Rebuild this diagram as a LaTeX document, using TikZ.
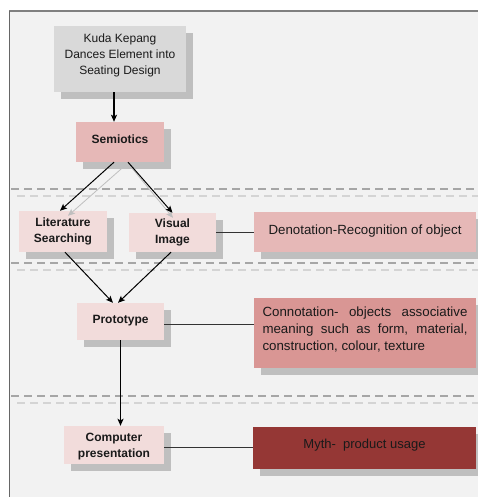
\documentclass[tikz,border=0pt]{standalone}
\usepackage{fontspec}
\setmainfont{Liberation Sans}
\usetikzlibrary{shadows,arrows.meta}
\definecolor{panel}{HTML}{F2F2F2}
\definecolor{shadowc}{HTML}{BFBFBF}
\definecolor{kudac}{HTML}{D9D9D9}
\definecolor{semc}{HTML}{E6B8B7}
\definecolor{lightc}{HTML}{F2DCDB}
\definecolor{conc}{HTML}{D99694}
\definecolor{mythc}{HTML}{953735}
\definecolor{textc}{HTML}{1A1A1A}
\definecolor{dashdark}{HTML}{A6A6A6}
\definecolor{dashlight}{HTML}{D4D4D4}
\begin{document}
\begin{tikzpicture}[x=1pt,y=-1pt,
  box/.style={rectangle, inner sep=2pt, align=center, text=textc,
    drop shadow={shadow xshift=7pt, shadow yshift=-7pt, fill=shadowc, opacity=1}},
  regtxt/.style={font=\fontsize{12}{16}\selectfont},
  bigtxt/.style={font=\fontsize{13.3}{17}\selectfont},
  boldtxt/.style={font=\fontsize{12}{16.5}\selectfont\bfseries},
  arr/.style={-{Stealth[length=7pt,width=6pt,inset=1.5pt]}, line width=1pt, black},
  garr/.style={-{Stealth[length=7pt,width=6pt,inset=1.5pt]}, line width=0.8pt, shadowc},
  conn/.style={line width=0.8pt, black!80},
  dsep/.style={dashdark, line width=1.2pt, dash pattern=on 8pt off 5pt},
  lsep/.style={dashlight, line width=1.2pt, dash pattern=on 8pt off 5pt}]
\useasboundingbox (0,0) rectangle (478,497);
\clip (0,0) rectangle (478,497);
\fill[white] (0,0) rectangle (478,497);
\fill[panel] (9,11) rectangle (478,497);
\draw[gray, line width=1.5pt] (9,11) -- (478,11);
\draw[black!60, line width=1pt] (9,11) -- (9,497);

% separators
\draw[dsep] (11,189) -- (478,189);
\draw[lsep] (17,196) -- (478,196);
\draw[dsep] (11,263) -- (478,263);
\draw[lsep] (17,270) -- (478,270);
\draw[dsep] (11,396) -- (478,396);
\draw[lsep] (17,403) -- (478,403);

% nodes
\node[box, fill=kudac, minimum width=132pt, minimum height=66pt] (kuda) at (120,59) {};
\node[regtxt, align=center, text=textc] (kudatxt) at ([yshift=4pt]kuda.center)
  {Kuda Kepang\\Dances Element into\\Seating Design};
\node[box, boldtxt, fill=semc, minimum width=88pt, minimum height=40pt] (sem) at (120,142) {\raisebox{5pt}{Semiotics}};
\node[box, boldtxt, fill=lightc, minimum width=88pt, minimum height=41pt] (lit) at (63,231.5) {Literature\\Searching};
\node[box, boldtxt, fill=lightc, minimum width=87pt, minimum height=39pt] (vis) at (172.5,232.5) {Visual\\Image};
\node[box, boldtxt, fill=lightc, minimum width=87pt, minimum height=37pt] (proto) at (120.5,321.5) {\raisebox{4pt}{Prototype}};
\node[box, fill=lightc, minimum width=100pt, minimum height=38pt] (comp) at (114,445) {};
\node[boldtxt, align=center, text=textc] (comptxt) at ([yshift=-1.5pt]comp.center) {Computer\\presentation};

\node[box, bigtxt, fill=semc, minimum width=222pt, minimum height=40pt] (deno) at (365,232) {\raisebox{4pt}{Denotation-Recognition of object}};
\node[box, fill=conc, minimum width=222pt, minimum height=70pt] (conno) at (365,333) {};
\node[bigtxt, text width=205pt, align=justify, text=textc, inner sep=0pt] (connotxt) at ([yshift=3pt]conno.center)
  {Connotation- objects associative\linebreak meaning such as form, material,\linebreak construction, colour, texture};
\node[box, font=\fontsize{13}{17}\selectfont, fill=mythc, minimum width=223pt, minimum height=42pt, text=textc] (myth) at (364.5,448)
  {\raisebox{8pt}{Myth-\ \ product usage}};

% arrows
\draw[garr] ([xshift=2pt,yshift=-6pt]sem.south) -- ([xshift=5pt,yshift=-5pt]lit.north);
\draw[garr] ([xshift=12pt,yshift=-6pt]sem.south) -- ([xshift=0.5pt,yshift=-5pt]vis.north);
\draw[arr, line width=1.2pt] ([xshift=-6pt]kuda.south) -- ([xshift=-6pt]sem.north);
\draw[arr] ([xshift=-6pt]sem.south) -- ([xshift=-3pt]lit.north);
\draw[arr] ([xshift=8pt]sem.south) -- (vis.north);
\draw[arr] ([xshift=2pt]lit.south) -- ([xshift=-7.5pt]proto.north);
\draw[arr] ([xshift=-1.5pt]vis.south) -- ([xshift=-2.5pt]proto.north);
\draw[arr, line width=1.2pt] (proto.south) -- (proto.south |- comp.north);

% connectors
\draw[conn] (vis.east) -- (vis.east -| deno.west);
\draw[conn] ([yshift=-2.5pt]proto.east) -- ([yshift=-2.5pt]proto.east -| conno.west);
\draw[conn] ([yshift=-2pt]comp.east) -- ([yshift=-2pt]comp.east -| myth.west);
\end{tikzpicture}
\end{document}
